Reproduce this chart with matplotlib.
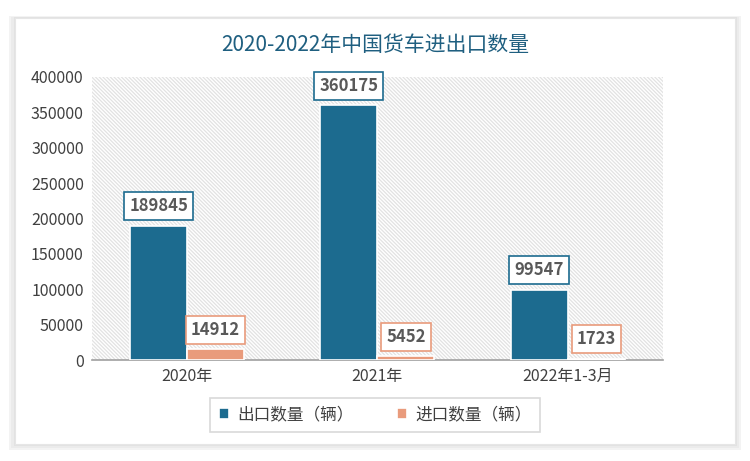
import numpy as np
import matplotlib.pyplot as plt
from matplotlib.patches import Rectangle, FancyBboxPatch

plt.rcParams['font.family'] = ['Noto Sans CJK SC', 'DejaVu Sans']
plt.rcParams['hatch.linewidth'] = 0.9

categories = ['2020年', '2021年', '2022年1-3月']
export_vals = [189845, 360175, 99547]
import_vals = [14912, 5452, 1723]
series_names = ['出口数量（辆）', '进口数量（辆）']
yticks = [0, 50000, 100000, 150000, 200000, 250000, 300000, 350000, 400000]

blue = '#1c6b8f'
orange = '#e99b7c'

fig = plt.figure(figsize=(7.5, 4.61), dpi=100)
fig.patch.set_facecolor('white')

# card with soft shadow
for pad, c in [(0.008, '#f3f3f3'), (0.005, '#ebebeb'), (0.002, '#e2e2e2')]:
    fig.patches.append(FancyBboxPatch((0.02 - pad, 0.036 - pad * 1.6), 0.96 + 2 * pad,
                                      0.925 + pad * 2.2, boxstyle='square,pad=0',
                                      transform=fig.transFigure, facecolor=c,
                                      edgecolor='none', zorder=0))
card = FancyBboxPatch((0.02, 0.036), 0.96, 0.925, boxstyle='square,pad=0',
                      transform=fig.transFigure, facecolor='white',
                      edgecolor='#e6e6e6', lw=0.8, zorder=1)
fig.patches.append(card)

ax = fig.add_axes([0.1227, 0.219, 0.761, 0.614])
ax.set_facecolor('none')
ax.set_zorder(2)

# hatched plot background
ax.add_patch(Rectangle((0, 0), 1, 1, transform=ax.transAxes, facecolor='white',
                       edgecolor='#e2e2e2', hatch='\\' * 9, lw=0, zorder=0))

x = np.arange(len(categories))
w = 0.3
b1 = ax.bar(x - w / 2, export_vals, w, color=blue, edgecolor='white', lw=1.2, zorder=3)
b2 = ax.bar(x + w / 2, import_vals, w, color=orange, edgecolor='white', lw=1.2, zorder=3)

for bars, vals, col in [(b1, export_vals, blue), (b2, import_vals, orange)]:
    for bar, v in zip(bars, vals):
        ax.annotate(f'{v}', (bar.get_x() + bar.get_width() / 2, v),
                    xytext=(0, 14), textcoords='offset points', ha='center', va='center',
                    fontsize=12, fontweight='bold', color='#595959', zorder=5,
                    bbox=dict(boxstyle='square,pad=0.3', fc='white', ec=col, lw=1.2))

ax.set_xlim(-0.5, 2.5)
ax.set_ylim(0, 400000)
ax.set_yticks(yticks)
ax.set_yticklabels([str(t) for t in yticks], fontsize=11.5, color='#404040')
ax.set_xticks(x)
ax.set_xticklabels(categories, fontsize=11.5, color='#404040')
ax.tick_params(length=0, pad=6)
for s in ['top', 'right', 'left']:
    ax.spines[s].set_visible(False)
ax.spines['bottom'].set_color('#a0a0a0')
ax.spines['bottom'].set_linewidth(1.2)

fig.text(0.5, 0.903, '2020-2022年中国货车进出口数量', ha='center', va='center',
         fontsize=15, fontweight='medium', color='#1f5f80', zorder=3)

leg = fig.legend([b1, b2], series_names, loc='center', bbox_to_anchor=(0.5, 0.1),
                 ncol=2, fontsize=12, frameon=True, fancybox=False, edgecolor='#d0d0d0',
                 handlelength=0.6, handleheight=0.6, columnspacing=2.6, handletextpad=0.5,
                 borderpad=0.5)
leg.get_frame().set_linewidth(1.2)
for t in leg.get_texts():
    t.set_color('#404040')

fig.savefig('out.png', dpi=100)
